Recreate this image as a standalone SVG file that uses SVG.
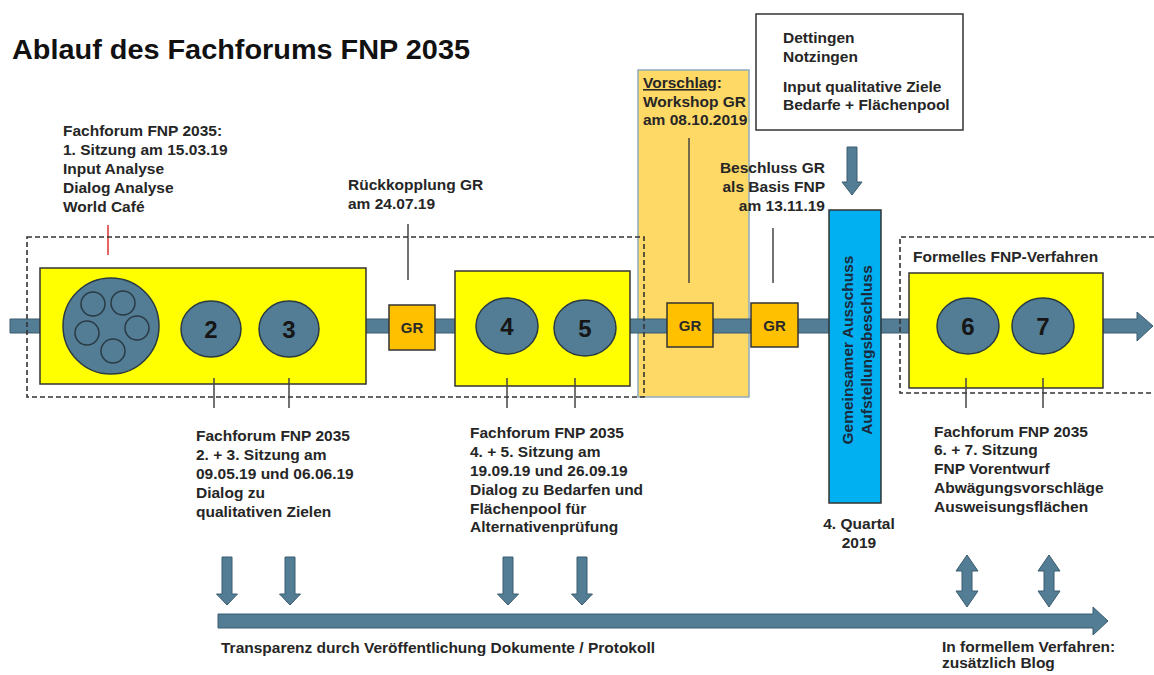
<svg xmlns="http://www.w3.org/2000/svg" width="1154" height="675" viewBox="0 0 1154 675">
<style>
text{font-family:"Liberation Sans",Arial,sans-serif;font-weight:bold;fill:#262626;font-size:15.5px}
.title{font-size:28.5px;fill:#111}
.num{font-size:24px;fill:#161616;text-anchor:middle}
.gr{font-size:15px;text-anchor:middle;fill:#2a2a2a}
.rot{fill:#1c2a3c;text-anchor:middle}
.yel{fill:#ffff00;stroke:#333;stroke-width:1.5}
.grb{fill:#ffc000;stroke:#333;stroke-width:1.5}
.ell{fill:#527d94;stroke:#2a3a44;stroke-width:1.5}
.sm{fill:none;stroke:#2a3a44;stroke-width:1.5}
.arr{fill:#527d94;stroke:#3a5d70;stroke-width:1}
.dash{fill:none;stroke:#333;stroke-width:1.6;stroke-dasharray:5 3}
.tick{stroke:#444;stroke-width:1.5}
</style>
<rect width="1154" height="675" fill="#fff"/>
<text class="title" x="12" y="59" textLength="458" lengthAdjust="spacingAndGlyphs">Ablauf des Fachforums FNP 2035</text>

<g id="vorschlag">
<rect x="638" y="70" width="111" height="327" fill="#ffd966" stroke="#8eaabd" stroke-width="1.5"/>
<text x="643" y="88"><tspan text-decoration="underline">Vorschlag</tspan>:</text>
<text x="643" y="107">Workshop GR</text>
<text x="643" y="125">am 08.10.2019</text>
</g>

<g id="connectors">
<polygon class="arr" points="10,319 1137,319 1137,312 1153,326 1137,341 1137,333 10,333"/>
<polygon class="arr" points="218,614 1093,614 1093,607 1108,621 1093,635 1093,628 218,628"/>
<polygon class="arr" points="847,147 857,147 857,182 862,182 852,195 842,182 847,182"/>
<g id="down-arrows">
<polygon class="arr" points="222,557 232,557 232,594 237.5,594 227,605 216.5,594 222,594"/>
<polygon class="arr" points="285,557 295,557 295,594 300.5,594 290,605 279.5,594 285,594"/>
<polygon class="arr" points="503,557 513,557 513,594 518.5,594 508,605 497.5,594 503,594"/>
<polygon class="arr" points="577,557 587,557 587,594 592.5,594 582,605 571.5,594 577,594"/>
</g>
<g id="double-arrows">
<polygon class="arr" points="967,555 978,571 972,571 972,591 978,591 967,607 956,591 962,591 962,571 956,571"/>
<polygon class="arr" points="1049,555 1060,571 1054,571 1054,591 1060,591 1049,607 1038,591 1044,591 1044,571 1038,571"/>
</g>
<line class="tick" x1="408" y1="224" x2="408" y2="280"/>
<line class="tick" x1="689" y1="138" x2="689" y2="283"/>
<line class="tick" x1="773" y1="228" x2="773" y2="283"/>
<line x1="108" y1="225" x2="108" y2="255" stroke="#e03030" stroke-width="1.5"/>
</g>

<g id="box1">
<rect class="yel" x="40" y="268" width="326" height="116"/>
<circle class="ell" cx="111" cy="326" r="48"/>
<circle class="sm" cx="93" cy="304" r="12"/>
<circle class="sm" cx="123" cy="303" r="12"/>
<circle class="sm" cx="137" cy="328" r="12"/>
<circle class="sm" cx="87" cy="333" r="12"/>
<circle class="sm" cx="113" cy="351" r="12"/>
<ellipse class="ell" cx="211" cy="329" rx="30" ry="28"/>
<text class="num" x="211" y="338">2</text>
<ellipse class="ell" cx="289" cy="329" rx="30" ry="28"/>
<text class="num" x="289" y="338">3</text>
</g>

<g id="gr1">
<rect class="grb" x="389" y="305" width="46" height="45"/>
<text class="gr" x="412" y="333">GR</text>
</g>

<g id="box2">
<rect class="yel" x="455" y="271" width="175" height="115"/>
<ellipse class="ell" cx="507" cy="326" rx="31" ry="28"/>
<text class="num" x="507" y="335">4</text>
<ellipse class="ell" cx="585" cy="328" rx="31" ry="28"/>
<text class="num" x="585" y="337">5</text>
</g>

<g id="gr2">
<rect class="grb" x="667" y="303" width="46" height="44"/>
<text class="gr" x="690" y="331">GR</text>
</g>
<g id="gr3">
<rect class="grb" x="751" y="303" width="47" height="44"/>
<text class="gr" x="774.5" y="331">GR</text>
</g>

<g id="ausschuss">
<rect x="829" y="210" width="52" height="293" fill="#00b0f0" stroke="#333" stroke-width="1.5"/>
<text class="rot" transform="translate(853,350) rotate(-90)">Gemeinsamer Ausschuss</text>
<text class="rot" transform="translate(872,350) rotate(-90)">Aufstellungsbeschluss</text>
</g>

<g id="box3">
<rect class="yel" x="909" y="273" width="194" height="115"/>
<ellipse class="ell" cx="968" cy="326" rx="31" ry="28"/>
<text class="num" x="968" y="335">6</text>
<ellipse class="ell" cx="1043" cy="326" rx="31" ry="28"/>
<text class="num" x="1043" y="335">7</text>
</g>

<g id="dashed">
<rect class="dash" x="27" y="237" width="617" height="160"/>
<path class="dash" d="M1154,237 H900 V393 H1154"/>
</g>

<g id="ticks">
<line class="tick" x1="214" y1="378" x2="214" y2="408"/>
<line class="tick" x1="289" y1="378" x2="289" y2="408"/>
<line class="tick" x1="507" y1="378" x2="507" y2="408"/>
<line class="tick" x1="575" y1="378" x2="575" y2="408"/>
<line class="tick" x1="966" y1="378" x2="966" y2="408"/>
<line class="tick" x1="1043" y1="378" x2="1043" y2="408"/>
</g>

<g id="input-box">
<rect x="756" y="14" width="207" height="116" fill="#fff" stroke="#333" stroke-width="1.5"/>
<text x="783" y="43">Dettingen</text>
<text x="783" y="62">Notzingen</text>
<text x="783" y="92">Input qualitative Ziele</text>
<text x="783" y="110">Bedarfe + Flächenpool</text>
</g>

<g id="labels">
<text x="63" y="136">Fachforum FNP 2035:</text>
<text x="63" y="155">1. Sitzung am 15.03.19</text>
<text x="63" y="174">Input Analyse</text>
<text x="63" y="193">Dialog Analyse</text>
<text x="63" y="212">World Café</text>

<text x="348" y="190">Rückkopplung GR</text>
<text x="348" y="209">am 24.07.19</text>

<text x="825" y="173" text-anchor="end">Beschluss GR</text>
<text x="825" y="192" text-anchor="end">als Basis FNP</text>
<text x="825" y="211" text-anchor="end">am 13.11.19</text>

<text x="913" y="262">Formelles FNP-Verfahren</text>

<text x="196" y="441">Fachforum FNP 2035</text>
<text x="196" y="460">2. + 3. Sitzung am</text>
<text x="196" y="479">09.05.19 und 06.06.19</text>
<text x="196" y="498">Dialog zu</text>
<text x="196" y="517">qualitativen Zielen</text>

<text x="470" y="438">Fachforum FNP 2035</text>
<text x="470" y="457">4. + 5. Sitzung am</text>
<text x="470" y="476">19.09.19 und 26.09.19</text>
<text x="470" y="495">Dialog zu Bedarfen und</text>
<text x="470" y="514">Flächenpool für</text>
<text x="470" y="532">Alternativenprüfung</text>

<text x="934" y="437">Fachforum FNP 2035</text>
<text x="934" y="455">6. + 7. Sitzung</text>
<text x="934" y="474">FNP Vorentwurf</text>
<text x="934" y="493">Abwägungsvorschläge</text>
<text x="934" y="512">Ausweisungsflächen</text>

<text x="859" y="529" text-anchor="middle">4. Quartal</text>
<text x="859" y="548" text-anchor="middle">2019</text>

<text x="221" y="653">Transparenz durch Veröffentlichung Dokumente / Protokoll</text>
<text x="942" y="652">In formellem Verfahren:</text>
<text x="942" y="668">zusätzlich Blog</text>
</g>
</svg>
